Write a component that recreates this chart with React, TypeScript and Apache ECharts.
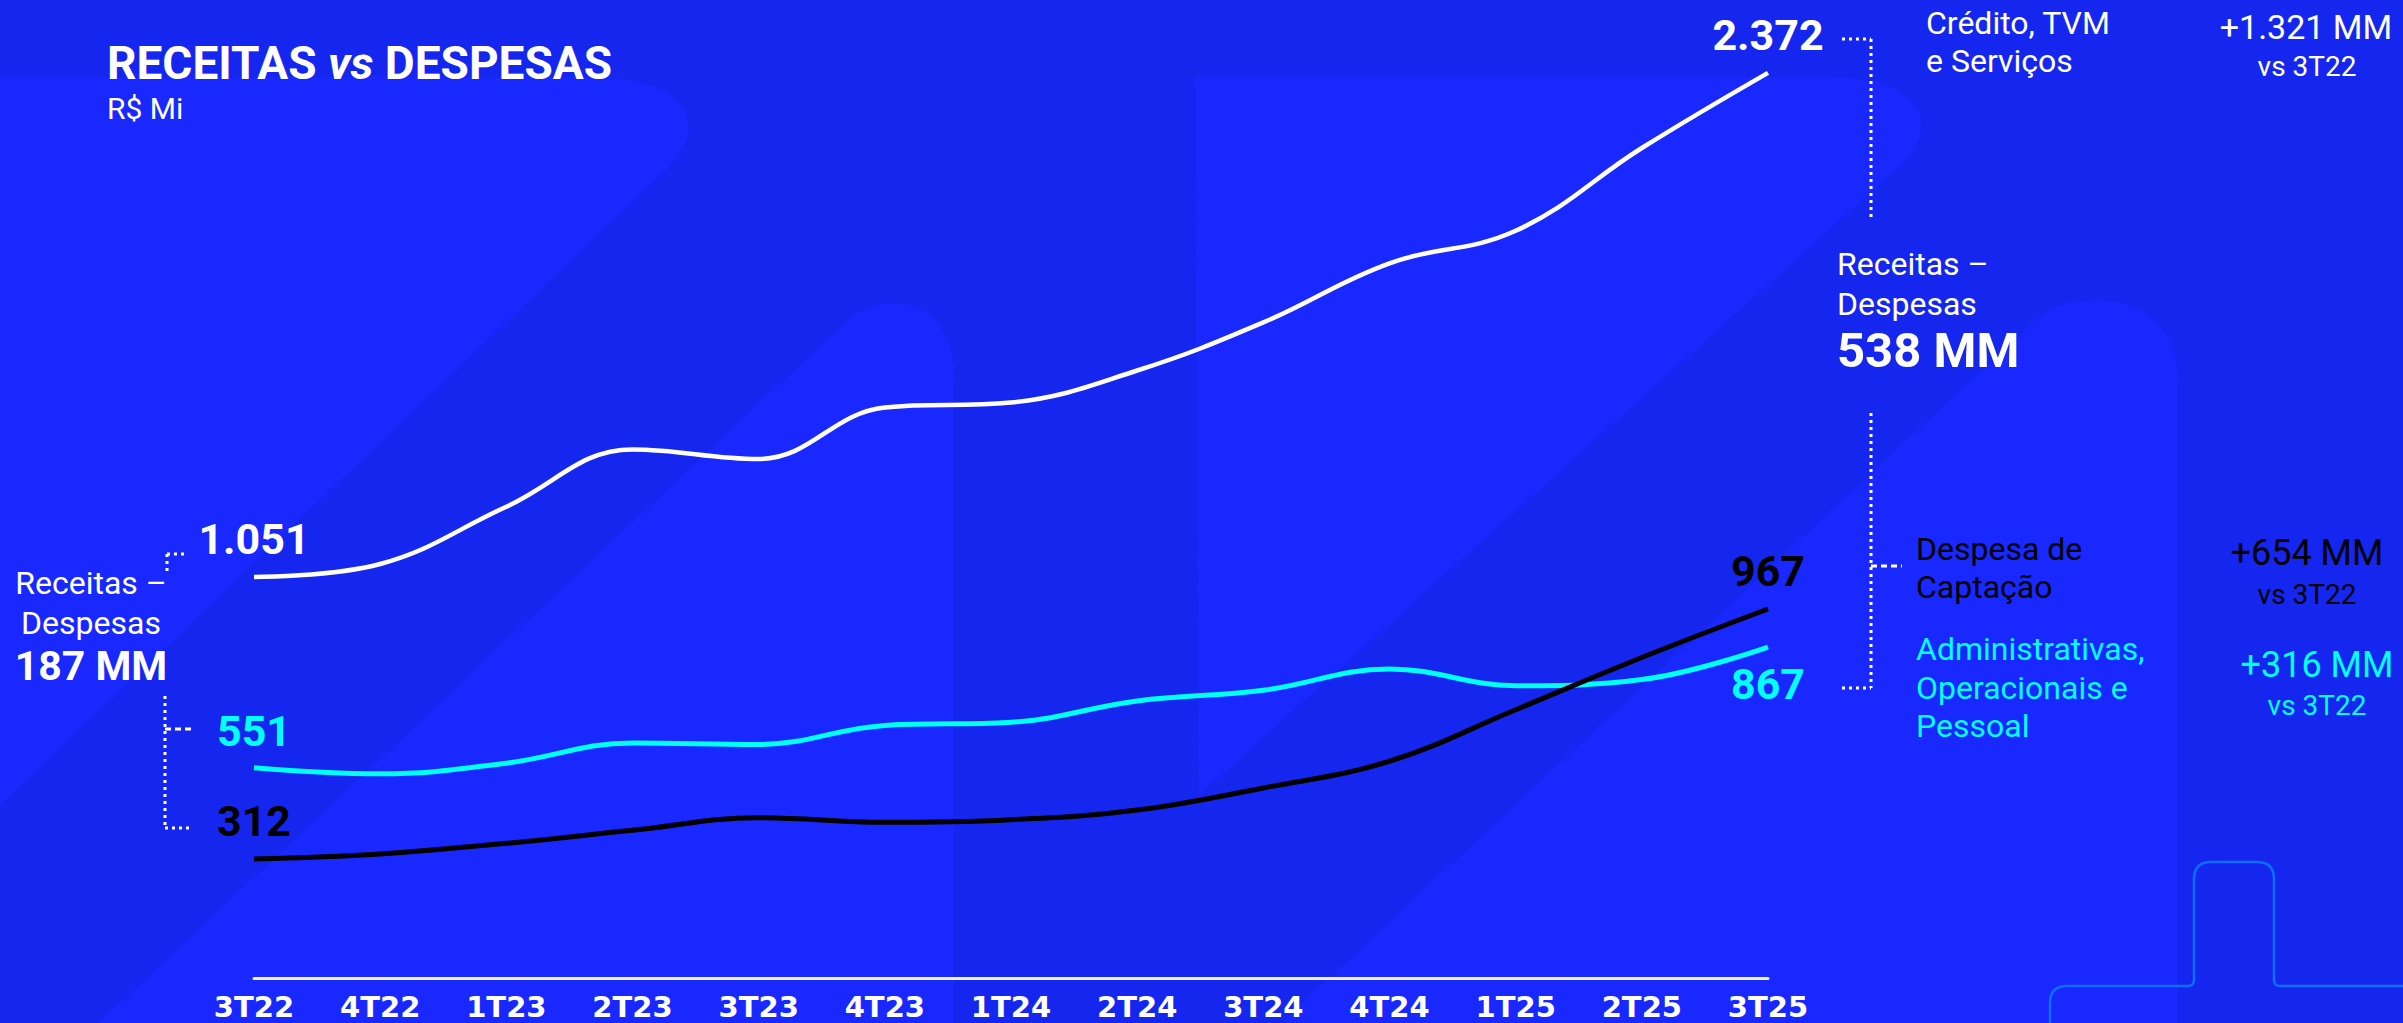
import React, { useEffect, useRef } from 'react';
import * as echarts from 'echarts';

const quarters = ['3T22', '4T22', '1T23', '2T23', '3T23', '4T23', '1T24', '2T24', '3T24', '4T24', '1T25', '2T25', '3T25'];
const receitasCredito = [1051, 1085, 1235, 1385, 1360, 1495, 1508, 1592, 1718, 1873, 1958, 2175, 2372];
const despesasAdm = [551, 535, 563, 616, 612, 662, 670, 726, 754, 810, 766, 782, 867];
const despesaCaptacao = [312, 325, 353, 387, 420, 408, 415, 440, 498, 568, 703, 840, 967];

const DARK = '#1527EE';
const LIGHT = '#1828FE';
const CYAN = '#00FFFF';

let registered = false;
function registerShapes() {
  if (registered) return;
  registered = true;
  const G: any = (echarts as any).graphic;
  G.registerShape('bgA', G.extendPath('M0 77 L590 77 C680 77 715 120 668 168 L0 805 Z', {}));
  G.registerShape('bgB', G.extendPath('M99 1023 L850 318 C882 292 954 292 954 380 L954 1023 Z', {}));
  G.registerShape('bgC', G.extendPath('M1281 1023 L2040 316 C2074 290 2178 288 2178 380 L2178 1023 Z', {}));
  G.registerShape('bgD', G.extendPath('M1195 77 L1830 77 C1920 77 1945 125 1898 168 L1199 795 Z', {}));
  G.registerShape(
    'tab',
    G.extendPath(
      'M2050 1030 L2050 1003 Q2050 986 2067 986 L2188 986 Q2194 986 2194 980 L2194 879 Q2194 862 2211 862 L2257 862 Q2274 862 2274 879 L2274 980 Q2274 986 2280 986 L2410 986',
      {}
    )
  );
}

const fmt = (v: number) =>
  v >= 1000 ? `${Math.floor(v / 1000)}.${String(v % 1000).padStart(3, '0')}` : String(v);

function endLabelled(vals: number[], lastPos: string) {
  return vals.map((v, i) =>
    i === 0 || i === vals.length - 1
      ? { value: v, label: { show: true, position: i === vals.length - 1 ? lastPos : 'top' } }
      : v
  );
}

function txt(text: string, x: number, y: number, size: number, color: string, bold = false, align = 'left') {
  return {
    type: 'text',
    x,
    y,
    z: 10,
    silent: true,
    style: {
      text,
      fill: color,
      fontSize: size,
      fontFamily: 'Roboto',
      fontWeight: bold ? 'bold' : 'normal',
      align,
      textAlign: align,
      verticalAlign: 'middle',
      textVerticalAlign: 'middle',
    },
  };
}

function dotted(x1: number, y1: number, x2: number, y2: number, dash: number[] = [3, 4]) {
  return {
    type: 'line',
    z: 10,
    silent: true,
    shape: { x1, y1, x2, y2 },
    style: { stroke: '#FFFFFF', lineWidth: 3, lineDash: dash },
  };
}

function lineSeries(name: string, vals: number[], color: string, width: number, lastPos: string) {
  return {
    name,
    type: 'line',
    data: endLabelled(vals, lastPos),
    smooth: 0.4,
    symbol: 'circle',
    symbolSize: 1,
    showSymbol: true,
    itemStyle: { color: 'rgba(0,0,0,0)' },
    lineStyle: { color, width, cap: 'butt' },
    label: {
      show: false,
      color,
      fontFamily: 'Roboto',
      fontWeight: 'bold',
      fontSize: 43,
      distance: lastPos === 'bottom' ? 15 : 16,
      formatter: (p: any) => fmt(p.value),
    },
    z: 5,
  };
}

export default function App() {
  const ref = useRef<HTMLDivElement>(null);
  useEffect(() => {
    if (!ref.current) return;
    registerShapes();
    const chart = echarts.init(ref.current, null, { renderer: 'svg' });
    const graphics: any[] = [
      { type: 'bgA', z: -10, silent: true, style: { fill: LIGHT } },
      { type: 'bgB', z: -10, silent: true, style: { fill: LIGHT } },
      { type: 'bgC', z: -10, silent: true, style: { fill: LIGHT } },
      { type: 'bgD', z: -10, silent: true, style: { fill: LIGHT } },
      { type: 'tab', z: -5, silent: true, style: { fill: 'none', stroke: '#0D6EFF', lineWidth: 2.5 } },
      {
        type: 'text',
        x: 107,
        y: 63,
        z: 10,
        silent: true,
        style: {
          text: '{b|RECEITAS }{i|vs}{b| DESPESAS}',
          verticalAlign: 'middle',
          textVerticalAlign: 'middle',
          rich: {
            b: { fill: '#FFFFFF', fontSize: 46, fontWeight: 'bold', fontFamily: 'Roboto' },
            i: { fill: '#FFFFFF', fontSize: 46, fontWeight: 'bold', fontStyle: 'italic', fontFamily: 'Roboto' },
          },
        },
      },
      txt('R$ Mi', 107, 108, 30, '#FFFFFF'),
      // left annotation
      txt('Receitas –', 91, 583, 32, '#FFFFFF', false, 'center'),
      txt('Despesas', 91, 623, 32, '#FFFFFF', false, 'center'),
      txt('187 MM', 91, 666, 41, '#FFFFFF', true, 'center'),
      dotted(167, 554, 188, 554),
      dotted(167, 554, 167, 571),
      dotted(165, 696, 165, 828),
      dotted(165, 729, 192, 729, [6, 4]),
      dotted(165, 828, 192, 828),
      // right annotation
      dotted(1842, 39, 1871, 39),
      dotted(1871, 39, 1871, 220),
      dotted(1871, 413, 1871, 688),
      dotted(1842, 688, 1871, 688),
      dotted(1871, 566, 1902, 566, [6, 4]),
      txt('Crédito, TVM', 1926, 23, 32, '#FFFFFF'),
      txt('e Serviços', 1926, 61, 32, '#FFFFFF'),
      txt('+1.321 MM', 2306, 27, 34, '#FFFFFF', false, 'center'),
      txt('vs 3T22', 2307, 66, 28, '#FFFFFF', false, 'center'),
      txt('Receitas –', 1837, 264, 32, '#FFFFFF'),
      txt('Despesas', 1837, 304, 32, '#FFFFFF'),
      txt('538 MM', 1837, 350, 49, '#FFFFFF', true),
      txt('Despesa de', 1916, 549, 32, '#000000'),
      txt('Captação', 1916, 587, 32, '#000000'),
      txt('+654 MM', 2307, 553, 36, '#000000', false, 'center'),
      txt('vs 3T22', 2307, 594, 28, '#000000', false, 'center'),
      txt('Administrativas,', 1916, 649, 32, CYAN),
      txt('Operacionais e', 1916, 688, 32, CYAN),
      txt('Pessoal', 1916, 726, 32, CYAN),
      txt('+316 MM', 2317, 665, 36, CYAN, false, 'center'),
      txt('vs 3T22', 2317, 705, 28, CYAN, false, 'center'),
    ];
    chart.setOption({
      animation: false,
      backgroundColor: DARK,
      grid: { left: 254, right: 635, top: 24, bottom: 45, containLabel: false },
      xAxis: {
        type: 'category',
        data: quarters,
        boundaryGap: false,
        axisLine: { show: true, lineStyle: { color: '#EEF0FF', width: 3 } },
        axisTick: { show: false },
        splitLine: { show: false },
        axisLabel: {
          interval: 0,
          color: '#FFFFFF',
          fontFamily: 'DejaVu Sans',
          fontWeight: 'bold',
          fontSize: 29,
          lineHeight: 22,
          margin: 18,
        },
      },
      yAxis: {
        type: 'value',
        min: 0,
        max: 2500,
        show: false,
        splitLine: { show: false },
      },
      series: [
        lineSeries('Crédito, TVM e Serviços', receitasCredito, '#FFFFFF', 4.5, 'top'),
        lineSeries('Administrativas, Operacionais e Pessoal', despesasAdm, CYAN, 5, 'bottom'),
        lineSeries('Despesa de Captação', despesaCaptacao, '#000000', 5, 'top'),
      ],
      graphic: graphics,
    });
    return () => chart.dispose();
  }, []);
  return (
    <div
      ref={ref}
      style={{ position: 'fixed', left: 0, top: 0, width: 2403, height: 1023 }}
    />
  );
}
